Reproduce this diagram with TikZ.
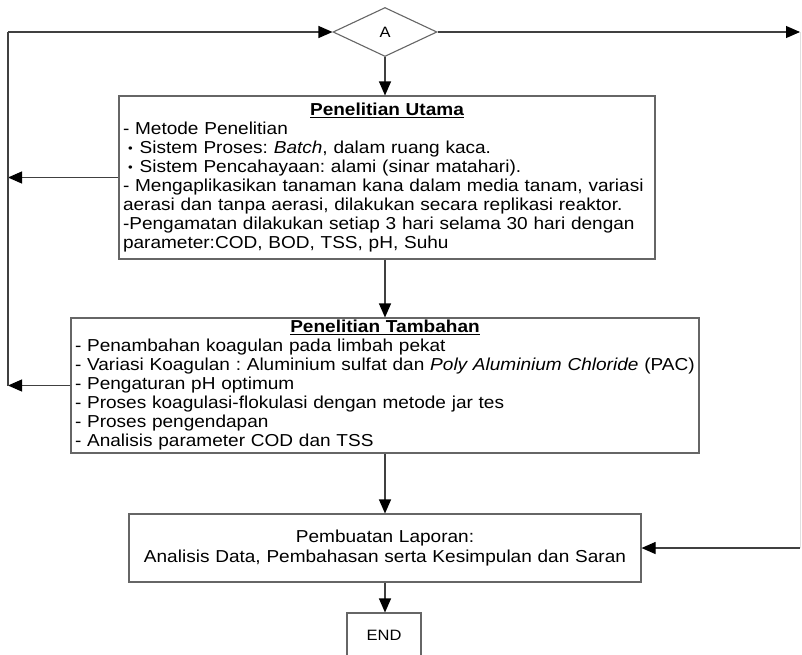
\documentclass[tikz,border=0pt]{standalone}
\usepackage{fontspec}
\setmainfont{Liberation Sans}[FakeStretch=1.1]
\usetikzlibrary{shapes.geometric,arrows.meta}
\newcommand{\smbul}{\hspace*{5pt}\raisebox{0.5pt}{\fontsize{12}{12}\selectfont\textbullet}\hspace{7pt}}
\begin{document}
\frenchspacing
\begin{tikzpicture}[x=1pt,y=-1pt,
  line/.style={draw=black!75, line width=1.1pt},
  faint/.style={draw=black!12, line width=1pt},
  arr/.style={line, -{Triangle[length=14pt,width=12pt,color=black]}},
  box/.style={draw=black!60, line width=1.1pt, fill=white, inner ysep=0pt, inner xsep=1pt,
              font=\fontsize{17.3}{19}\selectfont},
  ]
\useasboundingbox (0,0) rectangle (802,654);
\clip (0,0) rectangle (802,654);

\node[diamond, draw=black!60, line width=1.1pt, fill=white, minimum width=104pt, minimum height=49pt,
      inner sep=0pt, font=\fontsize{15}{15}\selectfont] (dA) at (385,32) {A};

\node[box, minimum width=536pt, minimum height=163pt, text width=534pt, align=left] (utama) at (387,177.5)
{\leftskip=3pt
{\centering\textbf{\underline{Penelitian Utama}}\par}
- Metode Penelitian\\
\smbul Sistem Proses: \textit{Batch}, dalam ruang kaca.\\
\smbul Sistem Pencahayaan: alami (sinar matahari).\\
- Mengaplikasikan tanaman kana dalam media tanam, variasi\\
aerasi dan tanpa aerasi, dilakukan secara replikasi reaktor.\\
-Pengamatan dilakukan setiap 3 hari selama 30 hari dengan\\
parameter:COD, BOD, TSS, pH, Suhu\par};

\node[box, minimum width=628pt, minimum height=135pt, text width=626pt, align=left] (tambahan) at (385,385.5)
{\leftskip=3pt
{\centering\textbf{\underline{Penelitian Tambahan}}\par}
- Penambahan koagulan pada limbah pekat\\
- Variasi Koagulan : Aluminium sulfat dan \textit{Poly Aluminium Chloride} (PAC)\\
- Pengaturan pH optimum\\
- Proses koagulasi-flokulasi dengan metode jar tes\\
- Proses pengendapan\\
- Analisis parameter COD dan TSS\par};

\node[box, minimum width=512pt, minimum height=68pt, text width=508pt, align=center,
      font=\fontsize{17.3}{20}\selectfont] (report) at (385,548)
{Pembuatan Laporan:\\Analisis Data, Pembahasan serta Kesimpulan dan Saran};

\node[box, minimum width=74pt, minimum height=44pt, inner xsep=0pt, font=\fontsize{15}{15}\selectfont] (endbox) at (384,635) {END};

\coordinate (L) at (8,32);
\coordinate (R) at (800,32);
\coordinate (R2) at (800,548);

\draw[arr] (dA.south) -- (dA.south |- utama.north);
\draw[arr] (utama.south -| dA) -- (tambahan.north -| dA);
\draw[arr] (tambahan.south) -- (report.north);
\draw[arr] (report.south) -- (report.south |- endbox.north);
\draw[arr] (utama.west) -- (utama.west -| L);
\draw[arr] (tambahan.west) -- (tambahan.west -| L);
\draw[line] (tambahan.west -| L) -- (L);
\draw[arr] (L) -- (dA.west);
\draw[arr] (dA.east) -- (R);
\draw[faint] (R) -- (R2);
\draw[arr] (R2) -- (report.east);
\end{tikzpicture}
\end{document}
